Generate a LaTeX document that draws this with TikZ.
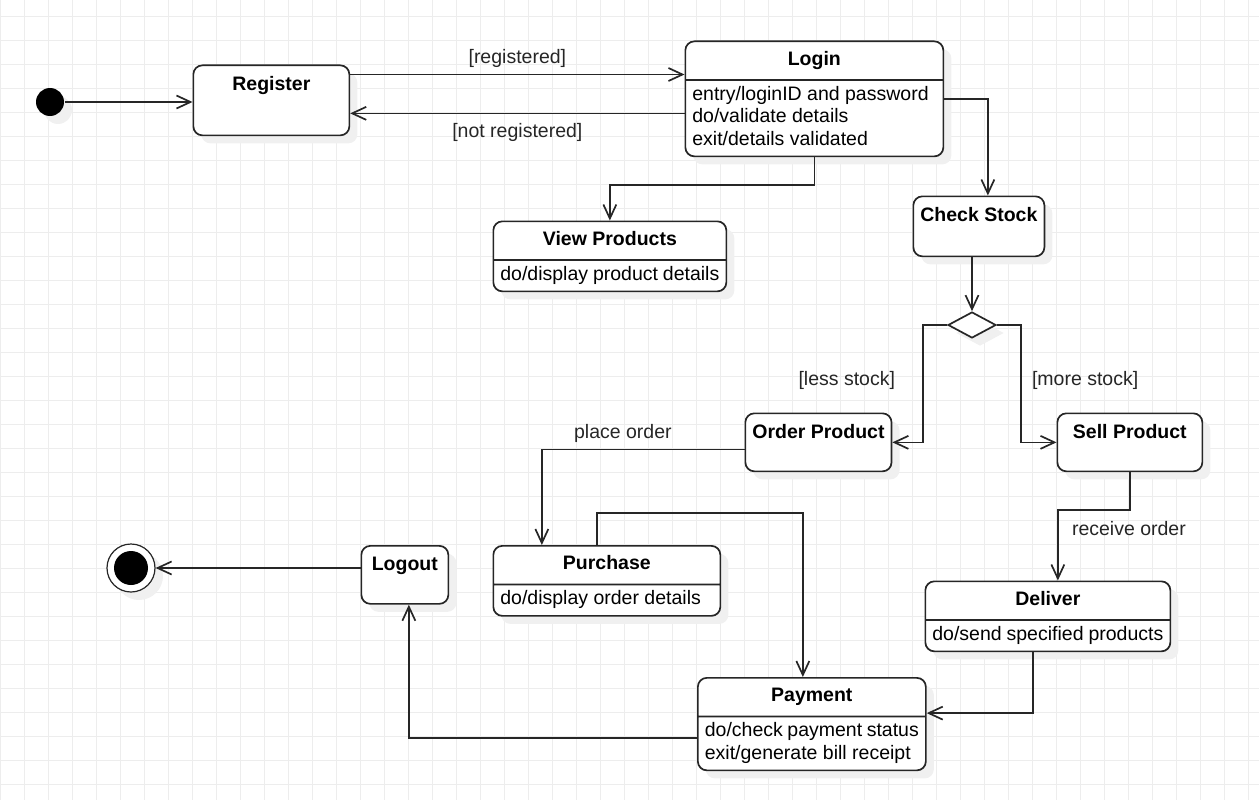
\documentclass[tikz,border=0pt]{standalone}
\usepackage{fontspec}
\setmainfont{Liberation Sans}
\usetikzlibrary{arrows.meta,shapes.multipart,shapes.geometric,shadows}

\newcommand{\dfont}{\fontsize{19.5}{22.5}\selectfont}
\newcommand{\sttl}[2]{\makebox[#1]{\rule[-9pt]{0pt}{27pt}\textbf{#2}}}
\newcommand{\sbdy}[2]{\parbox[t]{#1}{\rule{0pt}{14pt}#2\rule[-5.5pt]{0pt}{5.5pt}}}

\tikzset{
	boxshadow/.style={drop shadow={shadow xshift=8pt,shadow yshift=-8pt,fill=black!6,opacity=1}},
	simple/.style={draw=black!85,fill=white,boxshadow,rounded corners=9pt,anchor=north west,inner xsep=7pt,inner ysep=5pt,text height=20pt,font=\dfont\bfseries},
	compound/.style={rectangle split,rectangle split parts=2,draw=black!85,fill=white,boxshadow,rounded corners=9pt,anchor=north west,inner xsep=7pt,inner ysep=5pt,font=\dfont},
	startdot/.style={circle,fill=black,minimum size=28pt,inner sep=0pt,boxshadow},
	enddot/.style={circle,draw=black!85,line width=1.2pt,fill=white,minimum size=48pt,inner sep=0pt,boxshadow,
		path picture={\fill[black] (path picture bounding box.center) circle (17pt);}},
	decision/.style={diamond,draw=black!85,fill=white,minimum width=48pt,minimum height=26pt,inner sep=0pt,boxshadow},
	link/.style={draw=black!85},
	guard/.style={font=\dfont,text=black!85},
}

\begin{document}
\begin{tikzpicture}[x=1pt,y=-1pt,->,>={Straight Barb[length=14pt,width=13pt]},line width=1.7pt]

\useasboundingbox (0,0) rectangle (1259,800);
\begin{scope}
	\clip (0,0) rectangle (1259,800);
	\draw[-,line width=1pt,black!7,step=24pt,shift={(0.5,16.5)}] (-1,-17) grid (1260,784);
\end{scope}

% states
\node[startdot]	(init)		at (50,102)	{};
\node[simple,minimum width=156pt,text depth=40pt]	(register)	at (192.5,64.5)	{Register};
\node[compound]	(login)		at (684.5,40.5)	{\sttl{244pt}{Login}\nodepart{two}\sbdy{244pt}{entry/loginID and password\\do/validate details\\exit/details validated}};
\node[compound]	(view)		at (492.5,220.5)	{\sttl{219pt}{View Products}\nodepart{two}\sbdy{219pt}{do/display product details}};
\node[simple,minimum width=130pt,text depth=30pt]	(check)	at (912.5,195.5)	{Check Stock};
\node[decision]	(dec)		at (972,325)	{};
\node[simple,minimum width=145pt,text depth=28pt]	(order)	at (744.5,412.5)	{Order Product};
\node[simple,minimum width=145pt,text depth=28pt]	(sell)	at (1056.5,412.5)	{Sell Product};
\node[compound]	(purchase)	at (492.5,545)	{\sttl{213pt}{Purchase}\nodepart{two}\sbdy{213pt}{do/display order details}};
\node[simple,minimum width=87pt,text depth=28pt]	(logout)	at (360.5,545)	{Logout};
\node[enddot]	(final)		at (131,568)	{};
\node[compound]	(deliver)	at (924.5,580.5)	{\sttl{231pt}{Deliver}\nodepart{two}\sbdy{231pt}{do/send specified products}};
\node[compound]	(payment)	at (697,677)	{\sttl{214pt}{Payment}\nodepart{two}\sbdy{214pt}{do/check payment status\\exit/generate bill receipt}};

% transitions
\draw[link] (init) -- (init -| register.west);
\draw[link] ([yshift=-10pt]register.north east) -- ([yshift=-10pt]register.north east -| login.west)
	node[guard,midway,above=3pt] {[registered]};
\draw[link] ([yshift=-13pt]register.east -| login.west) -- ([yshift=-13pt]register.east)
	node[guard,midway,below=6pt] {[not registered]};
\draw[link] (login.south) -- ++(0,28) -| (view.north);
\draw[link] (login.east) -| ([xshift=9pt]check.north);
\draw[link] (check.south -| dec) -- (dec.north);
\draw[link] (dec.west) -- ++(-24,0) |- node[guard,pos=0.235,left=24pt] {[less stock]} (order.east);
\draw[link] (dec.east) -- ++(24,0) |- node[guard,pos=0.235,right=7pt] {[more stock]} (sell.west);
\draw[link] ([yshift=-7pt]order.west) -| node[guard,pos=0.3,above=3pt] {place order} ([xshift=-65pt]purchase.north);
\draw[link] ([xshift=-10pt]purchase.north) -- ++(0,-32) -| ([xshift=-9pt]payment.north);
\draw[link] (sell.south) -- ++(0,38) -| node[guard,pos=0.63,right=10pt] {receive order} ([xshift=10pt]deliver.north);
\draw[link] ([xshift=-15pt]deliver.south) |- ([yshift=11pt]payment.east);
\draw[link] ([yshift=-14pt]payment.west) -| ([xshift=4pt]logout.south);
\draw[link] (logout.west |- final) -- (final);
\end{tikzpicture}
\end{document}
